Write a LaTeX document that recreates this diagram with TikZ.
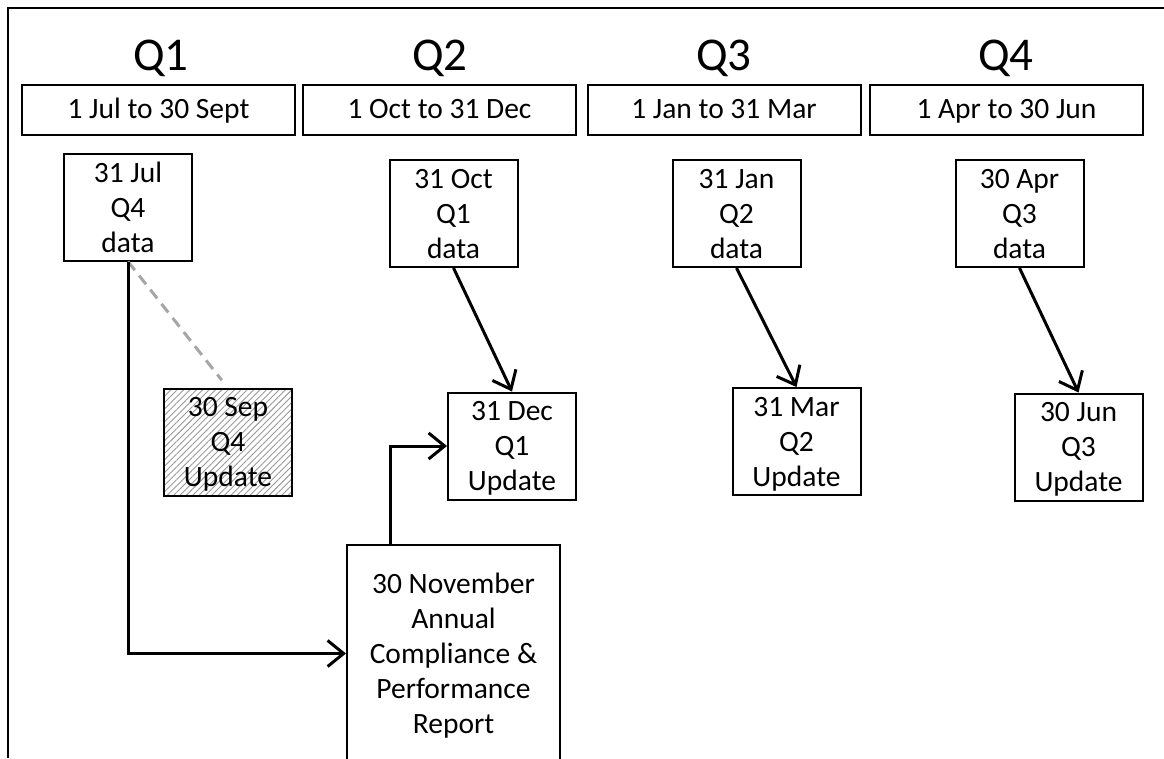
\documentclass[tikz,border=0pt]{standalone}
\usepackage{fontspec}
\setmainfont{Carlito}
\usetikzlibrary{arrows.meta,patterns.meta}

\tikzset{
  quarter/.style={inner sep=0pt, font=\fontsize{47}{56}\selectfont},
  rangebox/.style={draw, line width=2pt, minimum width=273pt, minimum height=50pt, inner sep=0pt, text height=22pt, text depth=5pt, font=\fontsize{29.5}{35}\selectfont},
  datebox/.style={draw, line width=2pt, minimum width=128pt, minimum height=107pt, inner sep=0pt, align=center, text depth=0pt, font=\fontsize{29.5}{35}\selectfont},
  hatched/.style={datebox, pattern={Lines[angle=45,distance=4.5pt,line width=0.9pt]}, pattern color=gray!80},
  flow/.style={line width=3pt, -{Straight Barb[length=16pt,width=26pt]}},
  faint/.style={line width=3pt, gray!70, dash pattern=on 11pt off 7pt},
}

\begin{document}
\begin{tikzpicture}[x=1pt,y=1pt,yscale=-1,xscale=1]
\clip (0,0) rectangle (1164,758);

%Frame
\draw [line width=2pt] (1164,8) -- (8,8) -- (8,758) ;

% Quarter headings
\node [quarter] (q1) at (161,58) {Q1};
\node [quarter] (q2) at (440,58) {Q2};
\node [quarter] (q3) at (724,58) {Q3};
\node [quarter] (q4) at (1006,58) {Q4};

% Date ranges
\node [rangebox] (r1) at (158.5,109.5) {1 Jul to 30 Sept};
\node [rangebox] (r2) at (439.5,109.5) {1 Oct to 31 Dec};
\node [rangebox] (r3) at (724,109.5) {1 Jan to 31 Mar};
\node [rangebox] (r4) at (1006.5,109.5) {1 Apr to 30 Jun};

% Data boxes
\node [datebox] (jul) at (128,207) {31 Jul\\Q4\\data};
\node [datebox] (oct) at (453.5,213.5) {31 Oct\\Q1\\data};
\node [datebox] (jan) at (736.5,213.5) {31 Jan\\Q2\\data};
\node [datebox] (apr) at (1019.5,213.5) {30 Apr\\Q3\\data};

% Update boxes
\node [hatched] (sep) at (228,442) {30 Sep\\Q4\\Update};
\node [datebox] (dec) at (512,446) {31 Dec\\Q1\\Update};
\node [datebox] (mar) at (796.5,441.5) {31 Mar\\Q2\\Update};
\node [datebox] (jun) at (1078.5,447) {30 Jun\\Q3\\Update};

% Annual report
\node [datebox, minimum width=213pt, minimum height=217pt] (report) at (453.5,653.5)
  {30 November\\Annual\\Compliance \&\\Performance\\Report};

% Connectors
\draw [faint, shorten >=10pt] (jul.south) -- (sep.north) ;
\draw [flow] (jul.south) |- (report.west) ;
\draw [flow] ([xshift=44pt]report.north west) |- (dec.west) ;
\draw [flow] (oct.south) -- (dec.north) ;
\draw [flow] (jan.south) -- (mar.north) ;
\draw [flow] (apr.south) -- (jun.north) ;

\end{tikzpicture}
\end{document}
